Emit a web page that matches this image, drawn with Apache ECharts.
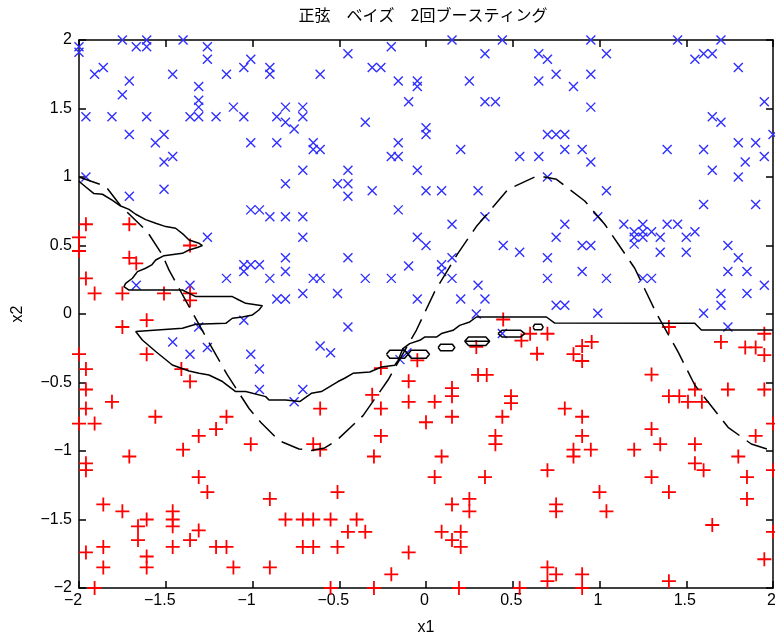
<!DOCTYPE html>
<html><head><meta charset="utf-8">
<script src="https://cdn.jsdelivr.net/npm/echarts@6/dist/echarts.min.js"></script>
<style>html,body{margin:0;padding:0;background:#fff}#c{width:775px;height:642px}</style>
</head><body><div id="c"></div>
<script>
const titleText = '正弦\u3000ベイズ\u30002回ブースティング';
const xName = 'x1';
const yName = 'x2';
const tickValues = [-2, -1.5, -1, -0.5, 0, 0.5, 1, 1.5, 2];
const xTickLabels = ['\u22122', '\u22121.5', '\u22121', '\u22120.5', '0', '0.5', '1', '1.5', '2'];
const yTickLabels = ['\u22122', '\u22121.5', '\u22121', '\u22120.5', '0', '0.5', '1', '1.5', '2'];

// blue "x" markers (class above the sine curve)
const classX = [
[-2.0,1.95],[-2.0,1.91],[-1.75,2.0],[-1.61,2.0],[-1.61,1.95],[-1.67,1.95],[-1.40,2.0],[-1.26,1.95],[-1.26,1.86],
[-1.91,1.75],[-1.86,1.80],[-1.71,1.70],[-1.75,1.60],[-1.46,1.75],[-1.31,1.66],[-1.31,1.56],[-1.31,1.51],[-1.31,1.44],
[-1.36,1.44],[-1.96,1.44],[-1.81,1.44],[-1.61,1.44],[-1.21,1.44],[-1.15,1.75],[-1.05,1.80],[-1.01,1.86],[-0.90,1.80],
[-0.90,1.75],[-1.11,1.51],[-1.05,1.44],[-0.86,1.44],[-0.81,1.51],[-0.81,1.40],[-0.76,1.35],[-0.71,1.51],[-0.71,1.44],
[-1.71,1.31],[-1.56,1.25],[-1.51,1.31],[-1.51,1.11],[-1.46,1.15],[-1.01,1.25],[-0.86,1.25],[-1.96,1.0],[-1.51,0.91],
[-1.71,0.86],[-0.81,0.95],[-0.71,1.05],[-1.01,0.76],[-0.96,0.76],[-0.90,0.71],[-0.81,0.71],[-0.71,0.71],
[0.15,2.0],[0.44,2.0],[-0.45,1.90],[-0.20,1.95],[0.34,1.90],[-0.31,1.80],[-0.26,1.80],[-0.61,1.75],[-0.16,1.70],
[-0.05,1.70],[-0.05,1.66],[0.25,1.70],[-0.10,1.55],[0.34,1.55],[0.40,1.55],[-0.35,1.40],[0.0,1.36],[0.0,1.31],
[-0.65,1.25],[-0.65,1.20],[-0.61,1.20],[-0.16,1.25],[-0.20,1.15],[-0.16,1.15],[0.20,1.20],[0.54,1.15],[-0.45,1.05],
[-0.05,1.05],[-0.51,0.95],[-0.45,0.95],[-0.45,0.86],[-0.31,0.90],[0.0,0.90],[0.09,0.90],[0.30,0.90],[-0.16,0.76],[0.34,0.71],
[0.95,2.0],[1.45,2.0],[1.70,2.0],[0.65,1.90],[0.70,1.86],[1.04,1.90],[1.55,1.86],[1.60,1.90],[1.65,1.90],[1.80,1.80],
[0.75,1.75],[0.95,1.75],[0.65,1.70],[0.85,1.66],[1.95,1.55],[0.95,1.51],[1.65,1.44],[1.70,1.40],[2.0,1.31],[0.70,1.31],
[0.75,1.31],[0.80,1.31],[1.80,1.25],[1.90,1.25],[0.80,1.20],[0.90,1.20],[1.39,1.20],[1.60,1.20],[0.65,1.15],[0.95,1.11],
[1.84,1.11],[1.95,1.15],[1.65,1.05],[1.80,1.0],[0.70,1.0],[1.04,0.90],[1.60,0.80],[1.90,0.80],[0.99,0.71],
[-1.26,0.56],[-0.71,0.56],[-0.81,0.41],[-1.05,0.36],[-1.01,0.36],[-0.96,0.36],[-1.05,0.31],[-0.81,0.31],[-1.15,0.26],
[-0.90,0.26],[-1.67,0.21],[-1.36,0.21],[-0.71,0.15],[-0.86,0.11],[-0.81,0.11],[-1.05,-0.045],[-1.31,-0.095],[-1.46,-0.204],
[-1.26,-0.244],[-1.36,-0.293],[-1.01,-0.293],[-0.96,-0.402],[-0.96,-0.551],[-0.71,-0.551],[-0.76,-0.641],
[0.15,0.655],[-0.05,0.56],[0.0,0.50],[0.445,0.50],[0.54,0.45],[-0.45,0.41],[-0.10,0.35],[0.09,0.36],[0.15,0.41],
[0.09,0.31],[0.15,0.26],[-0.65,0.26],[-0.61,0.26],[-0.35,0.26],[-0.20,0.26],[-0.51,0.15],[0.30,0.21],[-0.05,0.11],
[0.20,0.11],[0.34,0.11],[0.29,0.0],[-0.45,-0.095],[0.44,-0.143],[-0.61,-0.234],[-0.55,-0.283],[-0.11,-0.283],[-0.15,-0.333],
[0.80,0.655],[1.14,0.655],[1.25,0.655],[1.39,0.655],[1.45,0.655],[0.75,0.56],[1.20,0.60],[1.25,0.60],[1.20,0.56],
[1.25,0.56],[1.20,0.51],[1.30,0.60],[1.35,0.56],[1.55,0.60],[1.50,0.56],[0.90,0.50],[0.95,0.50],[1.74,0.50],[1.35,0.45],
[1.50,0.45],[0.70,0.41],[1.80,0.41],[0.90,0.31],[1.74,0.31],[1.85,0.31],[0.70,0.26],[1.04,0.26],[1.25,0.26],[1.30,0.26],
[1.95,0.21],[1.70,0.15],[1.85,0.15],[1.70,0.064],[0.75,0.064],[0.80,0.064],[0.99,0.005],[1.60,0.005],[1.74,-0.095]
];

// red "+" markers (class below the sine curve)
const classPlus = [
[-1.96,0.655],[-1.71,0.655],[-2.0,0.56],[-2.0,0.46],[-1.36,0.50],[-1.71,0.41],[-1.67,0.37],[-1.96,0.26],[-1.91,0.15],
[-1.75,0.15],[-1.51,0.15],[-1.36,0.15],[-1.36,0.10],[-1.75,-0.095],[-1.61,-0.045],[-2.0,-0.293],[-1.61,-0.293],
[-1.96,-0.402],[-1.41,-0.402],[-1.36,-0.492],[-1.96,-0.551],[-1.81,-0.641],
[0.445,-0.04],[0.60,-0.144],[0.55,-0.194],[0.64,-0.29],[0.29,-0.24],[-0.05,-0.338],[-0.26,-0.395],[0.30,-0.445],[0.35,-0.445],
[-0.10,-0.49],[0.15,-0.541],[0.15,-0.60],[-0.31,-0.59],[-0.10,-0.641],[0.05,-0.641],[0.49,-0.60],[0.49,-0.651],
[0.70,-0.144],[0.955,-0.204],[0.90,-0.234],[0.85,-0.293],[0.90,-0.343],[1.40,-0.095],[1.70,-0.204],[1.84,-0.244],
[1.90,-0.244],[1.95,-0.144],[1.95,-0.30],[1.30,-0.442],[1.40,-0.60],[1.46,-0.60],[1.51,-0.641],[1.55,-0.551],[1.59,-0.641],
[1.74,-0.551],[1.95,-0.551],
[-1.96,-0.69],[-2.0,-0.80],[-1.91,-0.80],[-1.56,-0.75],[-1.15,-0.75],[-1.21,-0.84],[-1.31,-0.89],[-1.01,-0.95],[-1.40,-0.99],
[-1.71,-1.04],[-1.96,-1.09],[-1.96,-1.14],[-1.31,-1.19],[-1.26,-1.30],[-0.90,-1.35],[-1.86,-1.39],[-1.75,-1.44],[-1.46,-1.44],
[-1.46,-1.50],[-1.46,-1.55],[-1.66,-1.55],[-1.66,-1.65],[-1.61,-1.50],[-0.81,-1.50],[-0.71,-1.50],[-1.31,-1.58],[-1.36,-1.65],
[-1.86,-1.70],[-1.96,-1.74],[-1.46,-1.70],[-1.21,-1.70],[-1.15,-1.70],[-0.71,-1.70],[-1.61,-1.77],[-1.61,-1.85],[-1.86,-1.85],
[-1.11,-1.85],[-0.90,-1.85],[-1.91,-2.0],
[-0.61,-0.69],[-0.26,-0.69],[0.0,-0.79],[0.15,-0.75],[0.44,-0.75],[-0.26,-0.89],[0.40,-0.89],[0.40,-0.95],[-0.65,-0.95],
[-0.61,-0.99],[-0.30,-1.04],[0.09,-1.04],[0.05,-1.19],[0.34,-1.19],[-0.51,-1.30],[0.15,-1.39],[0.25,-1.35],[0.25,-1.44],
[-0.65,-1.50],[-0.55,-1.50],[-0.40,-1.50],[-0.45,-1.59],[-0.35,-1.59],[-0.65,-1.70],[-0.51,-1.70],[0.09,-1.59],[0.20,-1.59],
[0.15,-1.65],[0.20,-1.70],[-0.10,-1.74],[-0.20,-1.90],[-0.55,-2.0],[-0.30,-2.0],[0.19,-2.0],[0.54,-2.0],
[0.80,-0.69],[0.90,-0.75],[0.90,-0.89],[0.85,-0.99],[0.85,-1.04],[0.95,-0.99],[0.70,-1.14],[1.0,-1.30],[1.04,-1.44],
[0.75,-1.39],[0.75,-1.44],[1.20,-0.99],[1.30,-0.84],[1.35,-0.95],[1.30,-1.19],[1.40,-1.30],[1.55,-0.95],[1.55,-1.09],
[1.60,-1.14],[1.90,-0.89],[1.80,-1.04],[1.85,-1.19],[1.85,-1.35],[2.0,-0.80],[2.0,-1.14],[2.0,-1.59],[1.65,-1.54],
[1.95,-1.79],[0.70,-1.85],[0.70,-1.95],[0.75,-1.90],[0.90,-1.90],[0.90,-2.0],[1.40,-1.95]
];

// true class boundary (dashed sine)
const sineCurve = [
[-2.0,1.0],[-1.846,0.932],[-1.76,0.79],[-1.606,0.60],[-1.519,0.43],[-1.481,0.32],[-1.27,-0.165],[-1.145,-0.445],
[-1.02,-0.69],[-0.953,-0.79],[-0.847,-0.924],[-0.732,-0.985],[-0.66,-0.997],[-0.584,-0.978],[-0.516,-0.924],
[-0.363,-0.742],[-0.219,-0.482],[-0.055,-0.117],[0.05,0.163],[0.184,0.443],[0.29,0.638],[0.473,0.91],[0.627,1.0],
[0.684,1.0],[0.752,0.983],[0.915,0.825],[1.03,0.655],[1.203,0.334],[1.328,0.005],[1.452,-0.274],[1.549,-0.518],
[1.741,-0.827],[1.875,-0.949],[2.0,-1.0]
];

// learned decision boundary (solid contour)
const boundary = [
[-2.0,0.97],[-1.98,0.947],[-1.914,0.879],[-1.865,0.874],[-1.807,0.83],[-1.76,0.788],[-1.712,0.764],[-1.673,0.728],
[-1.616,0.689],[-1.558,0.662],[-1.50,0.638],[-1.443,0.626],[-1.395,0.577],[-1.366,0.54],[-1.308,0.516],[-1.289,0.499],
[-1.318,0.485],[-1.366,0.467],[-1.404,0.443],[-1.51,0.426],[-1.558,0.394],[-1.581,0.358],[-1.616,0.334],[-1.663,0.309],
[-1.692,0.261],[-1.731,0.224],[-1.741,0.20],[-1.712,0.175],[-1.404,0.175],[-1.327,0.127],[-1.116,0.127],[-1.078,0.102],
[-1.039,0.078],[-0.943,0.061],[-0.934,0.047],[-0.963,0.029],[-1.0,-0.007],[-1.058,-0.022],[-1.116,-0.031],[-1.154,-0.068],
[-1.327,-0.075],[-1.404,-0.104],[-1.673,-0.128],[-1.683,-0.141],[-1.635,-0.19],[-1.558,-0.274],[-1.462,-0.372],
[-1.366,-0.416],[-1.308,-0.433],[-1.251,-0.445],[-1.173,-0.493],[-1.097,-0.566],[-1.039,-0.566],[-0.924,-0.603],
[-0.905,-0.628],[-0.809,-0.628],[-0.728,-0.639],[-0.661,-0.579],[-0.603,-0.566],[-0.555,-0.53],[-0.507,-0.493],
[-0.469,-0.469],[-0.421,-0.433],[-0.324,-0.423],[-0.257,-0.387],[-0.18,-0.374],[-0.161,-0.338],[-0.133,-0.253],
[-0.094,-0.216],[-0.036,-0.192],[-0.008,-0.168],[0.06,-0.168],[0.089,-0.143],[0.156,-0.119],[0.194,-0.083],
[0.252,-0.058],[0.29,-0.022],[0.694,-0.022],[0.742,-0.066],[1.549,-0.068],[1.587,-0.117],[2.0,-0.117]
];

// small closed contour islands
const island1 = [[-0.228,-0.294],[-0.209,-0.265],[-0.123,-0.265],[-0.104,-0.294],[-0.123,-0.323],[-0.209,-0.323],[-0.228,-0.294]];
const island2 = [[-0.104,-0.294],[-0.085,-0.265],[0.001,-0.265],[0.020,-0.294],[0.001,-0.323],[-0.085,-0.323],[-0.104,-0.294]];
const island3 = [[0.070,-0.245],[0.084,-0.221],[0.152,-0.221],[0.166,-0.245],[0.152,-0.269],[0.084,-0.269],[0.070,-0.245]];
const island4 = [[0.223,-0.199],[0.245,-0.168],[0.345,-0.168],[0.367,-0.199],[0.345,-0.230],[0.245,-0.230],[0.223,-0.199],[0.367,-0.199]];
const island5 = [[0.415,-0.143],[0.438,-0.119],[0.546,-0.119],[0.569,-0.143],[0.546,-0.167],[0.438,-0.167],[0.415,-0.143]];
const island6 = [[0.617,-0.095],[0.626,-0.075],[0.666,-0.075],[0.675,-0.095],[0.666,-0.115],[0.626,-0.115],[0.617,-0.095]];
const islands = [island1, island2, island3, island4, island5, island6];

function nearestIndex(v) {
  let best = 0;
  for (let i = 1; i < tickValues.length; i++) {
    if (Math.abs(tickValues[i] - v) < Math.abs(tickValues[best] - v)) best = i;
  }
  return best;
}

const numFont = 'Liberation Sans';
const chart = echarts.init(document.getElementById('c'), null, { renderer: 'canvas' });
const axisLineStyle = { color: '#000', width: 1.5 };

function makeAxis(isX, pos, showLabels, labels) {
  const ax = {
    type: 'value', min: -2, max: 2, interval: 0.5, position: pos,
    axisLine: { show: true, onZero: false, lineStyle: axisLineStyle },
    axisTick: { show: true, inside: true, length: 7, lineStyle: axisLineStyle },
    axisLabel: { show: false },
    splitLine: { show: false }
  };
  if (showLabels) {
    if (isX) {
      ax.axisLabel = {
        show: true, color: '#000', fontSize: 16, fontFamily: numFont, margin: 5,
        formatter: function (v) {
          const i = nearestIndex(v);
          return (tickValues[i] < 0 ? '{neg|' : '{pos|') + labels[i] + '}';
        },
        rich: {
          neg: { color: '#000', fontSize: 16, fontFamily: numFont, padding: [0, 12, 0, 0] },
          pos: { color: '#000', fontSize: 16, fontFamily: numFont, padding: [0, 3, 0, 0] }
        }
      };
    } else {
      ax.axisLabel = {
        show: true, color: '#000', fontSize: 16, fontFamily: numFont, margin: 7,
        formatter: function (v) { return labels[nearestIndex(v)]; }
      };
    }
  }
  return ax;
}

const xMain = makeAxis(true, 'bottom', true, xTickLabels);
xMain.name = xName; xMain.nameLocation = 'middle'; xMain.nameGap = 32;
xMain.nameTextStyle = { color: '#000', fontSize: 16, fontFamily: numFont };
const yMain = makeAxis(false, 'left', true, yTickLabels);
yMain.name = yName; yMain.nameLocation = 'middle'; yMain.nameGap = 53; yMain.nameRotate = 90;
yMain.nameTextStyle = { color: '#000', fontSize: 16, fontFamily: numFont };

const series = [
  {
    type: 'scatter', data: classX, symbol: 'path://M0,0L10,10M10,0L0,10', symbolSize: 9,
    itemStyle: { color: 'rgba(0,0,0,0)', borderColor: '#2f2fff', borderWidth: 1.4, opacity: 1 },
    clip: false, silent: true, z: 2
  },
  {
    type: 'scatter', data: classPlus, symbol: 'path://M0,5L10,5M5,0L5,10', symbolSize: 14,
    itemStyle: { color: 'rgba(0,0,0,0)', borderColor: '#ff0000', borderWidth: 1.8, opacity: 1 },
    clip: false, silent: true, z: 2
  },
  {
    type: 'line', data: boundary, showSymbol: false, symbol: 'none', silent: true, z: 3,
    lineStyle: { color: '#000', width: 1.5 }
  },
  {
    type: 'line', data: sineCurve, showSymbol: false, symbol: 'none', silent: true, z: 3,
    lineStyle: { color: '#000', width: 1.5, type: [22, 9] }
  }
];
islands.forEach(function (isl) {
  series.push({
    type: 'line', data: isl, showSymbol: false, symbol: 'none', silent: true, z: 3,
    lineStyle: { color: '#000', width: 1.5 }
  });
});

chart.setOption({
  animation: false,
  backgroundColor: '#fff',
  grid: { left: 79, right: 2, top: 40, bottom: 54, containLabel: false, outerBoundsMode: 'none' },
  xAxis: [xMain, makeAxis(true, 'top', false, xTickLabels)],
  yAxis: [yMain, makeAxis(false, 'right', false, yTickLabels)],
  graphic: [{
    type: 'text', x: 423, y: 15,
    style: { text: titleText, font: '16px "Noto Sans CJK JP"', fill: '#000', align: 'center', verticalAlign: 'middle' }
  }],
  series: series
});
</script>
</body></html>
